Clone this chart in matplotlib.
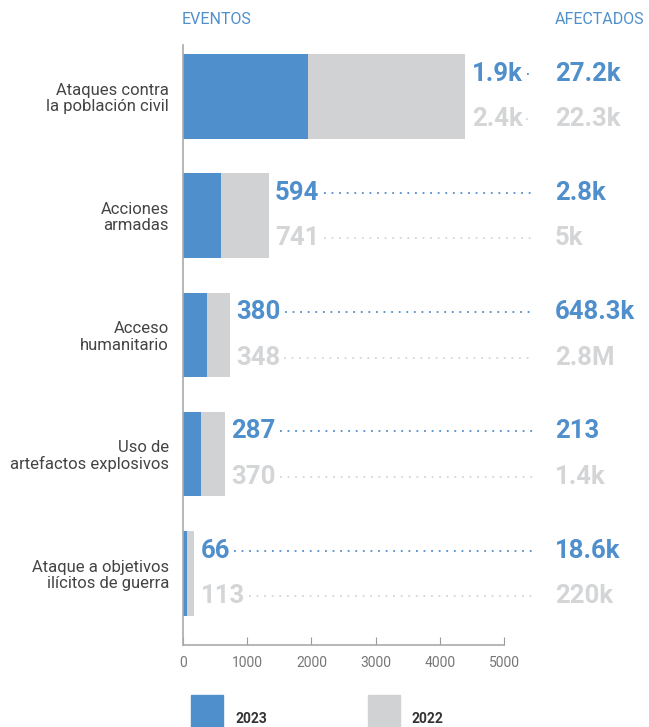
import matplotlib
matplotlib.use("Agg")
import matplotlib.pyplot as plt
from matplotlib.patches import Rectangle
from matplotlib.lines import Line2D

plt.rcParams['font.family'] = ['Roboto', 'DejaVu Sans']

# events per category
categories = ["Ataques contra\nla población civil", "Acciones\narmadas",
              "Acceso\nhumanitario", "Uso de\nartefactos explosivos",
              "Ataque a objetivos\nilícitos de guerra"]
events_2023 = [1947, 594, 380, 287, 66]
events_2022 = [2449, 741, 348, 370, 113]

# people affected per category
affected_2023 = ["27.2k", "2.8k", "648.3k", "213", "18.6k"]
affected_2022 = ["22.3k", "5k", "2.8M", "1.4k", "220k"]

BLUE = "#4f8fcc"
GRAY = "#d1d2d4"
GRAY_TXT = "#d4d5d7"
W, H = 649, 727


def fmt(v):
    if v >= 1000:
        return f"{int(v / 100) / 10:.1f}k"
    return str(v)


fig = plt.figure(figsize=(W / 100, H / 100), dpi=100)
ax = fig.add_axes([183 / W, 1 - 645 / H, 321 / W, 600 / H])

y = list(range(len(categories)))
ax.barh(y, events_2023, height=0.71, color=BLUE, zorder=2)
ax.barh(y, events_2022, left=events_2023, height=0.71, color=GRAY, zorder=2)

ax.set_xlim(0, 5000)
ax.set_ylim(4.6, -0.43)
ax.set_xticks([0, 1000, 2000, 3000, 4000, 5000])
ax.tick_params(axis='x', direction='in', length=6, color='#999999',
               labelcolor='#777777', labelsize=10, pad=8)
ax.set_yticks(y)
ax.set_yticklabels(categories, fontsize=12, color='#444444', linespacing=1.1)
ax.tick_params(axis='y', length=0, pad=10)
for s in ['top', 'right']:
    ax.spines[s].set_visible(False)
ax.spines['left'].set_color('#aaaaaa')
ax.spines['bottom'].set_color('#aaaaaa')
ax.spines['left'].set_linewidth(1.2)
ax.spines['bottom'].set_linewidth(1.2)

# value labels to the right of each stacked bar
off = 0.19
aff_x = 5795
num_size = 18.5
labels = []
for i in y:
    total = events_2023[i] + events_2022[i]
    t1 = ax.text(total + 100, i - off, fmt(events_2023[i]), color=BLUE,
                 fontsize=num_size, fontweight='bold', va='center', ha='left')
    t2 = ax.text(total + 100, i + off, fmt(events_2022[i]), color=GRAY_TXT,
                 fontsize=num_size, fontweight='bold', va='center', ha='left')
    ax.text(aff_x, i - off, affected_2023[i], color=BLUE, fontsize=num_size,
            fontweight='bold', va='center', ha='left', clip_on=False)
    ax.text(aff_x, i + off, affected_2022[i], color=GRAY_TXT, fontsize=num_size,
            fontweight='bold', va='center', ha='left', clip_on=False)
    labels.append((t1, i - off, BLUE))
    labels.append((t2, i + off, GRAY_TXT))

# dotted leaders from each label to the affected column
fig.canvas.draw()
r = fig.canvas.get_renderer()
inv = ax.transData.inverted()
end_x = inv.transform((533, 0))[0]
for t, yy, c in labels:
    x1 = t.get_window_extent(r).x1 + 4
    xs = inv.transform((x1, 0))[0]
    ax.add_line(Line2D([xs, end_x], [yy, yy], color=c, lw=1.3,
                       linestyle=(0, (1, 3.2)), clip_on=False))

fig.text(182 / W, 1 - 20 / H, "EVENTOS", color=BLUE, fontsize=11.5,
         va='center', ha='left')
fig.text(555 / W, 1 - 20 / H, "AFECTADOS", color=BLUE, fontsize=11.5,
         va='center', ha='left')

# legend
fig.add_artist(Rectangle((191 / W, 0), 32 / W, 32 / H, color=BLUE,
                         transform=fig.transFigure))
fig.add_artist(Rectangle((368 / W, 0), 32 / W, 32 / H, color=GRAY,
                         transform=fig.transFigure))
fig.text(236 / W, 1 - 723 / H, "2023", fontsize=10, fontweight='bold',
         color='#333333', va='baseline')
fig.text(412 / W, 1 - 723 / H, "2022", fontsize=10, fontweight='bold',
         color='#333333', va='baseline')

fig.savefig("out.png", dpi=100)
